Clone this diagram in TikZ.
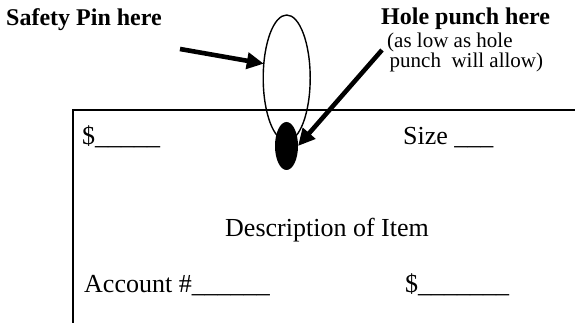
\documentclass[tikz,border=0pt]{standalone}
\usepackage{fontspec}
\setmainfont{Liberation Serif}
\usetikzlibrary{shapes.geometric,arrows.meta}
\begin{document}
\begin{tikzpicture}[x=1pt,y=1pt,
  headtxt/.style={anchor=base west,inner sep=0,font=\fontsize{24}{28}\selectfont\bfseries},
  notetxt/.style={anchor=base west,inner sep=0,align=left,font=\fontsize{21}{19}\selectfont},
  formtxt/.style={anchor=base west,inner sep=0,font=\fontsize{26}{30}\selectfont},
  border/.style={line width=2.2pt},
  pointer/.style={line width=4.6pt,-{Triangle[length=17pt,width=16pt]}},
]
\useasboundingbox (0,0) rectangle (575,323);
% headings
\node[headtxt] (safety) at (6,297) {Safety Pin here};
\node[headtxt] (hole) at (381,298) {Hole punch here};
\node[notetxt] (note) at (387,255) {(as low as hole\\\hspace{2.5pt}punch\ \ will allow)};
% tag border
\coordinate (tl) at (73,213);
\coordinate (tr) at (575,213);
\coordinate (bl) at (73,0);
\draw[border] (bl) -- (tl) -- (tr);
% form texts
\node[formtxt] (price1) at (82,178) {\$\_\_\_\_\_};
\node[formtxt] (size) at (403,178) {Size \_\_\_};
\node[formtxt] (desc) at (225,86) {Description of Item};
\node[formtxt] (acct) at (84,30) {Account \#\_\_\_\_\_\_};
\node[formtxt] (price2) at (405,30) {\$\_\_\_\_\_\_\_};
% safety pin and hole
\node[draw,line width=1.4pt,ellipse,inner sep=0,outer sep=0,minimum width=47,minimum height=126] (pin) at (286.7,245) {};
\node[fill=black,ellipse,inner sep=0,outer sep=0,minimum width=23,minimum height=48] (punch) at (286.5,177) {};
% arrows
\coordinate (a1) at (180,274);
\coordinate (a2) at (382,273);
\draw[pointer] (a1) -- (pin.148);
\draw[pointer] (a2) -- (punch.east);
\end{tikzpicture}
\end{document}
